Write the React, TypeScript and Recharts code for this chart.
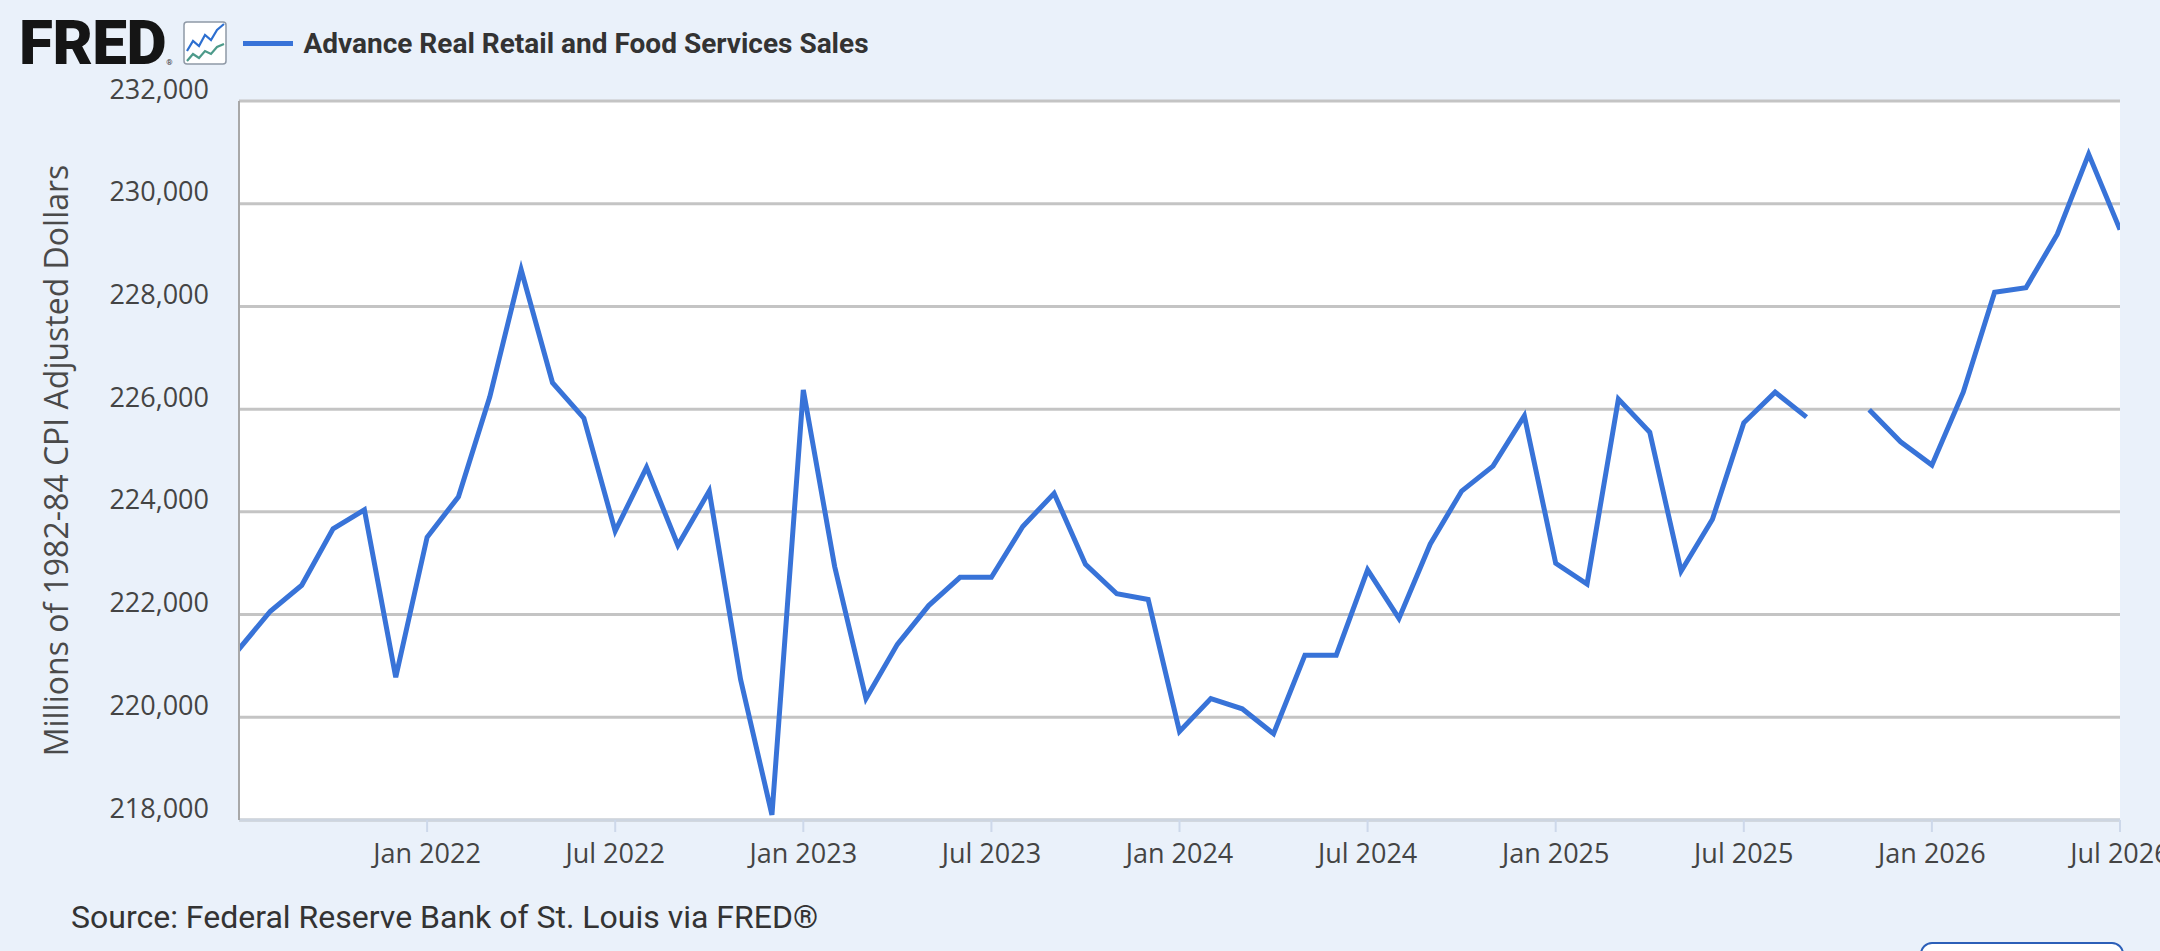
import { LineChart, Line, XAxis, YAxis, CartesianGrid } from "recharts";

// monthly observations, Jun 2021 (just left of the visible window) to Jul 2026
const months = [
  "2021-06", "2021-07", "2021-08", "2021-09", "2021-10", "2021-11", "2021-12",
  "2022-01", "2022-02", "2022-03", "2022-04", "2022-05", "2022-06",
  "2022-07", "2022-08", "2022-09", "2022-10", "2022-11", "2022-12",
  "2023-01", "2023-02", "2023-03", "2023-04", "2023-05", "2023-06",
  "2023-07", "2023-08", "2023-09", "2023-10", "2023-11", "2023-12",
  "2024-01", "2024-02", "2024-03", "2024-04", "2024-05", "2024-06",
  "2024-07", "2024-08", "2024-09", "2024-10", "2024-11", "2024-12",
  "2025-01", "2025-02", "2025-03", "2025-04", "2025-05", "2025-06",
  "2025-07", "2025-08", "2025-09", "2025-10", "2025-11", "2025-12",
  "2026-01", "2026-02", "2026-03", "2026-04", "2026-05", "2026-06",
  "2026-07",
];

const sales: (number | null)[] = [
  222900, 221330, 222065, 222570, 223670, 224040, 220780,
  223505, 224295, 226240, 228715, 226515, 225825,
  223625, 224865, 223350, 224405, 220735, 218100,
  226375, 222935, 220365, 221420, 222175, 222725,
  222725, 223715, 224360, 222980, 222405, 222295,
  219725, 220365, 220165, 219680, 221210, 221210,
  222870, 221925, 223375, 224405, 224890, 225870,
  223000, 222595, 226195, 225550, 222845, 223855,
  225735, 226330, 225845, null, 225990, 225365,
  224910, 226330, 228275, 228365, 229405, 230965,
  229495,
];

const yTicks = [218000, 220000, 222000, 224000, 226000, 228000, 230000, 232000];

const xTickMonths = [
  "2022-01", "2022-07", "2023-01", "2023-07", "2024-01", "2024-07",
  "2025-01", "2025-07", "2026-01", "2026-07",
];
const xTickLabels = [
  "Jan 2022", "Jul 2022", "Jan 2023", "Jul 2023", "Jan 2024", "Jul 2024",
  "Jan 2025", "Jul 2025", "Jan 2026", "Jul 2026",
];

// month index relative to Jul 2021 (first visible month)
const idx = (m: string) => months.indexOf(m) - 1;

const data = months.map((m, k) => ({ i: k - 1, month: m, value: sales[k] }));
const xTicks = xTickMonths.map(idx);

const ROBOTO = "Roboto, sans-serif";
const OPEN = "'Open Sans', sans-serif";
const BG = "#eaf1fa";
const BLUE = "#3873d8";

const YTick = (props: any) => {
  const { x, y, payload } = props;
  return (
    <text x={x} y={y - 13} textAnchor="end" dominantBaseline="central" fontSize={27} fill="#444" fontFamily={OPEN}>
      {Number(payload.value).toLocaleString("en-US")}
    </text>
  );
};

const XTick = (props: any) => {
  const { x, y, payload } = props;
  const k = xTicks.indexOf(payload.value);
  return (
    <text x={x} y={y} textAnchor="middle" dominantBaseline="central" fontSize={27} fill="#444" fontFamily={OPEN}>
      {xTickLabels[k]}
    </text>
  );
};

const YTitle = (props: any) => {
  const vb = props.viewBox || {};
  const cy = vb.y + vb.height / 2;
  return (
    <text
      x={55}
      y={cy}
      transform={`rotate(-90, 55, ${cy})`}
      textAnchor="middle"
      dominantBaseline="central"
      fontSize={32}
      fill="#4a4a4a"
      fontFamily={OPEN}
    >
      Millions of 1982-84 CPI Adjusted Dollars
    </text>
  );
};

function FredIcon() {
  return (
    <svg width={44} height={44} viewBox="0 0 44 44">
      <rect x={1} y={1} width={42} height={42} rx={3} fill="#fff" stroke="#8f99a6" strokeWidth={1.5} />
      <polyline points="4,30 10,20 16,25 22,14 28,19 34,9 41,3" fill="none" stroke="#2d6fd0" strokeWidth={2.2} />
      <polyline points="4,40 10,33 16,37 22,30 28,33 34,26 41,23" fill="none" stroke="#4c9a8a" strokeWidth={2.2} />
    </svg>
  );
}

export default function App() {
  return (
    <div
      style={{
        position: "absolute",
        left: 0,
        top: 0,
        width: 2160,
        height: 951,
        background: BG,
        overflow: "hidden",
        fontFamily: ROBOTO,
      }}
    >
      {/* header: logo + legend */}
      <div style={{ position: "absolute", left: 19, top: 21, height: 44, display: "flex", alignItems: "center" }}>
        <span style={{ fontSize: 62, fontWeight: 900, color: "#151515", letterSpacing: -0.5, lineHeight: "44px" }}>
          FRED
        </span>
        <span style={{ fontSize: 8, color: "#333", alignSelf: "flex-end", marginBottom: -2, marginLeft: 0 }}>®</span>
        <span style={{ marginLeft: 11, display: "flex" }}>
          <FredIcon />
        </span>
        <span style={{ display: "inline-block", width: 50, height: 5, background: BLUE, marginLeft: 16 }} />
        <span style={{ marginLeft: 10, fontSize: 28, fontWeight: 700, color: "#333" }}>
          Advance Real Retail and Food Services Sales
        </span>
      </div>

      <div style={{ position: "absolute", left: 0, top: 0 }}>
        <LineChart width={2160} height={951} data={data} margin={{ top: 101, right: 40, bottom: 71, left: 0 }}>
          <CartesianGrid horizontal vertical={false} stroke="#c4c4c4" strokeWidth={3} fill="#fff" />
          <XAxis
            dataKey="i"
            type="number"
            domain={[0, 60]}
            allowDataOverflow
            ticks={xTicks}
            tick={<XTick />}
            height={60}
            tickSize={12}
            tickMargin={20}
            axisLine={{ stroke: "#cdd5e0", strokeWidth: 3 }}
            tickLine={{ stroke: "#cdd8ea", strokeWidth: 2 }}
          />
          <YAxis
            type="number"
            domain={[218000, 232000]}
            ticks={yTicks}
            allowDataOverflow
            width={239}
            tickSize={0}
            tickMargin={30}
            tick={<YTick />}
            axisLine={{ stroke: "#a8a8a8", strokeWidth: 2 }}
            tickLine={false}
            label={<YTitle />}
          />
          <Line
            type="linear"
            dataKey="value"
            stroke={BLUE}
            strokeWidth={5}
            dot={false}
            activeDot={false}
            connectNulls={false}
            isAnimationActive={false}
          />
        </LineChart>
      </div>

      <div style={{ position: "absolute", left: 71, top: 898, fontSize: 32, color: "#333", lineHeight: "38px" }}>
        Source: Federal Reserve Bank of St. Louis via FRED®
      </div>

      <div
        style={{
          position: "absolute",
          left: 1920,
          top: 942,
          width: 200,
          height: 40,
          border: "2px solid #2c5fb8",
          borderRadius: 12,
          background: "#fff",
        }}
      />
    </div>
  );
}
